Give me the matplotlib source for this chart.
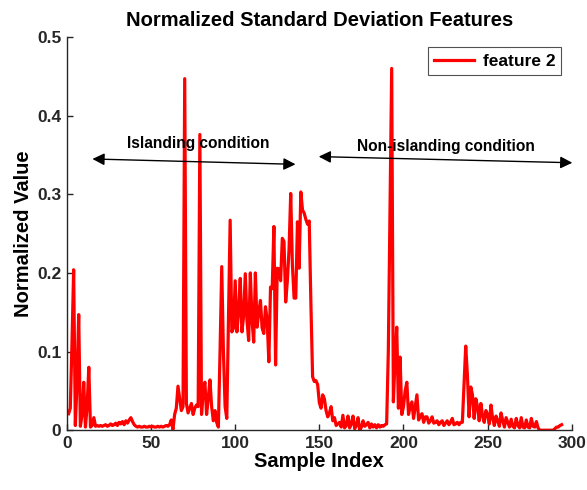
import numpy as np
import matplotlib
matplotlib.use("Agg")
import matplotlib.pyplot as plt

plt.rcParams['font.family'] = ['Liberation Sans', 'DejaVu Sans']

# =========================
# data (feature 2, samples 1..294)
# =========================
vals_001_040 = [0.021, 0.028, 0.11, 0.204, 0.006, 0.06, 0.147, 0.005, 0.02, 0.061,
                0.004, 0.03, 0.08, 0.004, 0.006, 0.016, 0.005, 0.006, 0.005, 0.006,
                0.005, 0.006, 0.007, 0.005, 0.006, 0.008, 0.006, 0.007, 0.009, 0.006,
                0.01, 0.008, 0.011, 0.007, 0.012, 0.009, 0.013, 0.016, 0.011, 0.007]
vals_041_090 = [0.005, 0.004, 0.005, 0.004, 0.004, 0.005, 0.004, 0.004, 0.005, 0.004,
                0.005, 0.004, 0.004, 0.005, 0.004, 0.005, 0.004, 0.005, 0.006, 0.005,
                0.007, 0.013, 0.001, 0.02, 0.028, 0.056, 0.04, 0.025, 0.03, 0.447,
                0.034, 0.022, 0.028, 0.034, 0.02, 0.028, 0.032, 0.03, 0.376, 0.02,
                0.05, 0.061, 0.02, 0.04, 0.064, 0.03, 0.012, 0.025, 0.01, 0.004]
vals_091_145 = [0.1, 0.208, 0.1, 0.03, 0.015, 0.14, 0.267, 0.125, 0.13, 0.19,
                0.125, 0.15, 0.193, 0.125, 0.145, 0.199, 0.14, 0.114, 0.2, 0.14,
                0.112, 0.2, 0.131, 0.15, 0.165, 0.13, 0.123, 0.157, 0.14, 0.087,
                0.182, 0.18, 0.259, 0.083, 0.206, 0.205, 0.19, 0.244, 0.24, 0.163,
                0.19, 0.23, 0.301, 0.21, 0.168, 0.168, 0.265, 0.206, 0.303, 0.28,
                0.276, 0.268, 0.262, 0.266, 0.16]
vals_146_190 = [0.068, 0.062, 0.063, 0.058, 0.035, 0.028, 0.045, 0.04, 0.025, 0.017,
                0.022, 0.03, 0.012, 0.016, 0.006, 0.008, 0.01, 0.004, 0.019, 0.003,
                0.006, 0.018, 0.003, 0.008, 0.018, 0.002, 0.006, 0.016, 0.0, 0.004,
                0.012, 0.005, 0.007, 0.01, 0.003, 0.008, 0.004, 0.007, 0.003, 0.007,
                0.004, 0.006, 0.005, 0.007, 0.008]
vals_191_235 = [0.1, 0.28, 0.46, 0.036, 0.09, 0.131, 0.028, 0.093, 0.02, 0.03,
                0.05, 0.061, 0.02, 0.03, 0.036, 0.015, 0.03, 0.045, 0.013, 0.018,
                0.021, 0.01, 0.017, 0.017, 0.009, 0.012, 0.017, 0.009, 0.01, 0.012,
                0.007, 0.01, 0.012, 0.006, 0.009, 0.012, 0.007, 0.01, 0.015, 0.007,
                0.008, 0.01, 0.007, 0.01, 0.01]
vals_236_294 = [0.06, 0.107, 0.07, 0.017, 0.055, 0.045, 0.015, 0.04, 0.03, 0.012,
                0.034, 0.018, 0.01, 0.025, 0.02, 0.008, 0.032, 0.015, 0.006, 0.018,
                0.012, 0.005, 0.022, 0.012, 0.004, 0.016, 0.01, 0.004, 0.014, 0.005,
                0.003, 0.015, 0.006, 0.003, 0.016, 0.004, 0.003, 0.013, 0.004, 0.003,
                0.015, 0.005, 0.004, 0.011, 0.003, 0.0, 0.0, 0.0, 0.0, 0.0,
                0.0, 0.0, 0.0, 0.0, 0.002, 0.004, 0.004, 0.006, 0.007]

feature2 = np.array(vals_001_040 + vals_041_090 + vals_091_145 +
                    vals_146_190 + vals_191_235 + vals_236_294)
idx = np.arange(1, len(feature2) + 1)

xticks = [0, 50, 100, 150, 200, 250, 300]
yticks = [0, 0.1, 0.2, 0.3, 0.4, 0.5]
ytick_labels = ["0", "0.1", "0.2", "0.3", "0.4", "0.5"]

# =========================
# plot
# =========================
fig = plt.figure(figsize=(5.87, 4.9), dpi=100)
ax = fig.add_axes([0.114, 0.122, 0.86, 0.8025])

ax.plot(idx, feature2, color="red", lw=2.3, label="feature 2")

ax.set_xlim(0, 300)
ax.set_ylim(0, 0.5)
ax.set_xticks(xticks)
ax.set_yticks(yticks)
ax.set_yticklabels(ytick_labels)
ax.tick_params(direction="in", length=4, labelsize=12.5, colors="#262626",
               width=1.0, pad=4)
for lbl in ax.get_xticklabels() + ax.get_yticklabels():
    lbl.set_fontweight("bold")
for s in ["top", "right"]:
    ax.spines[s].set_visible(False)
for s in ["left", "bottom"]:
    ax.spines[s].set_color("#262626")
    ax.spines[s].set_linewidth(1.0)

ax.set_title("Normalized Standard Deviation Features", fontsize=14.5,
             fontweight="bold", pad=8)
ax.set_xlabel("Sample Index", fontsize=14.5, fontweight="bold", labelpad=1)
ax.set_ylabel("Normalized Value", fontsize=14.5, fontweight="bold", labelpad=3)

leg = ax.legend(loc="upper right", frameon=True, fancybox=False,
                handlelength=2.3, handletextpad=0.5, borderaxespad=0.6,
                borderpad=0.35, prop={"weight": "bold", "size": 12.5})
leg.get_frame().set_edgecolor("#262626")
leg.get_frame().set_linewidth(0.8)

# arrows
ax.annotate("", xy=(137.5, 0.338), xytext=(13.5, 0.345),
            arrowprops=dict(arrowstyle="<|-|>", color="black", lw=1.0,
                            mutation_scale=18),
            annotation_clip=False)
ax.text(78, 0.364, "Islanding condition", fontsize=11.2, fontweight="bold",
        ha="center", va="center")

ax.annotate("", xy=(302, 0.340), xytext=(148, 0.348),
            arrowprops=dict(arrowstyle="<|-|>", color="black", lw=1.0,
                            mutation_scale=18),
            annotation_clip=False)
ax.text(225, 0.361, "Non-islanding condition", fontsize=11.2, fontweight="bold",
        ha="center", va="center")

fig.savefig("out.png", dpi=100)
